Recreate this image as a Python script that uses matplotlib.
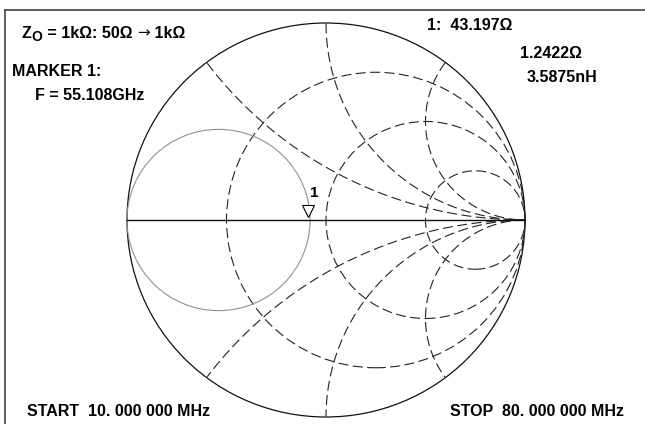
import numpy as np
import matplotlib
matplotlib.use('Agg')
import matplotlib.pyplot as plt
from matplotlib.patches import Circle

plt.rcParams['font.family'] = ['Liberation Sans', 'DejaVu Sans']

# 网格: 归一化电阻圆和电抗弧
r_values = [1 / 3, 1.0, 3.0]
x_values = [0.5, 1.0, 2.0, -0.5, -1.0, -2.0]

# 测量轨迹 (反射系数平面中的圆)
trace_center = -0.54
trace_radius = 0.46

# 标记点
marker_u = -0.09
marker_v = 0.0

W, H = 645, 424
fig = plt.figure(figsize=(W / 100, H / 100), dpi=100)

# 圆图所在像素区域
cx, cy, rx, ry = 326, 220, 199, 197
ax = fig.add_axes([(cx - rx) / W, (H - cy - ry) / H, 2 * rx / W, 2 * ry / H])
ax.set_xlim(-1, 1)
ax.set_ylim(-1, 1)
ax.axis('off')

dash = (0, (9, 4))
gc = '#222222'

# 外圆 r = 0
ax.add_patch(Circle((0, 0), 1, fill=False, lw=0.9, color='#111111', clip_on=False))

# 电阻圆
for r in r_values:
    ax.add_patch(Circle((r / (1 + r), 0), 1 / (1 + r), fill=False, lw=0.8,
                        color=gc, linestyle=dash, clip_on=False))

# 电抗弧
t = np.linspace(0, 2 * np.pi, 2000)
for x in x_values:
    c = 1 / x
    u = 1 + abs(c) * np.cos(t)
    v = c + abs(c) * np.sin(t)
    inside = u ** 2 + v ** 2 <= 1.0001
    u = np.where(inside, u, np.nan)
    v = np.where(inside, v, np.nan)
    ax.plot(u, v, color=gc, lw=0.8, linestyle=dash, clip_on=False)

# 实轴
ax.plot([-1, 1], [0, 0], color='#111111', lw=1.0, clip_on=False)

# 轨迹
ax.add_patch(Circle((trace_center, 0), trace_radius, fill=False, lw=0.8,
                    color='#909090', clip_on=False))

# 标记
ax.plot(marker_u, marker_v + 0.045, marker='v', ms=8, mfc='white', mec='black',
        mew=0.8, clip_on=False)
ax.text(marker_u + 0.01, marker_v + 0.1, '1', fontsize=11, fontweight='bold',
        ha='left', va='bottom')

# 边框 (上边和左边)
fig.add_artist(plt.Line2D([5 / W, 1], [1 - 10 / H, 1 - 10 / H], color='#444444', lw=1.2))
fig.add_artist(plt.Line2D([5 / W, 5 / W], [0, 1 - 10 / H], color='#444444', lw=1.2))

fs = 11.5


def label(px, py, s, ha='left', size=fs, weight='bold', family=None):
    kw = {}
    if family:
        kw['family'] = family
    return fig.text(px / W, 1 - py / H, s, fontsize=size, fontweight=weight,
                    ha=ha, va='center', **kw)


# Z0 行: 分段放置
renderer = fig.canvas.get_renderer()
x = 22
for s, dy, size, weight, fam in [('Z', 0, fs, 'bold', None),
                                 ('O', 4, 10, 'bold', None),
                                 (' = 1kΩ: 50Ω ', 0, fs, 'bold', None),
                                 ('→', 0, 11, 'normal', 'DejaVu Sans'),
                                 (' 1kΩ', 0, fs, 'bold', None)]:
    txt = label(x, 33 + dy, s, size=size, weight=weight, family=fam)
    x = txt.get_window_extent(renderer).x1

label(12, 72, 'MARKER 1:')
label(35, 96, 'F = 55.108GHz')
label(427, 25, '1:  43.197Ω')
label(520, 53, '1.2422Ω')
label(527, 77, '3.5875nH')
label(27, 412, 'START  10. 000 000 MHz')
label(450, 412, 'STOP  80. 000 000 MHz')

fig.savefig('out.png', dpi=100)
